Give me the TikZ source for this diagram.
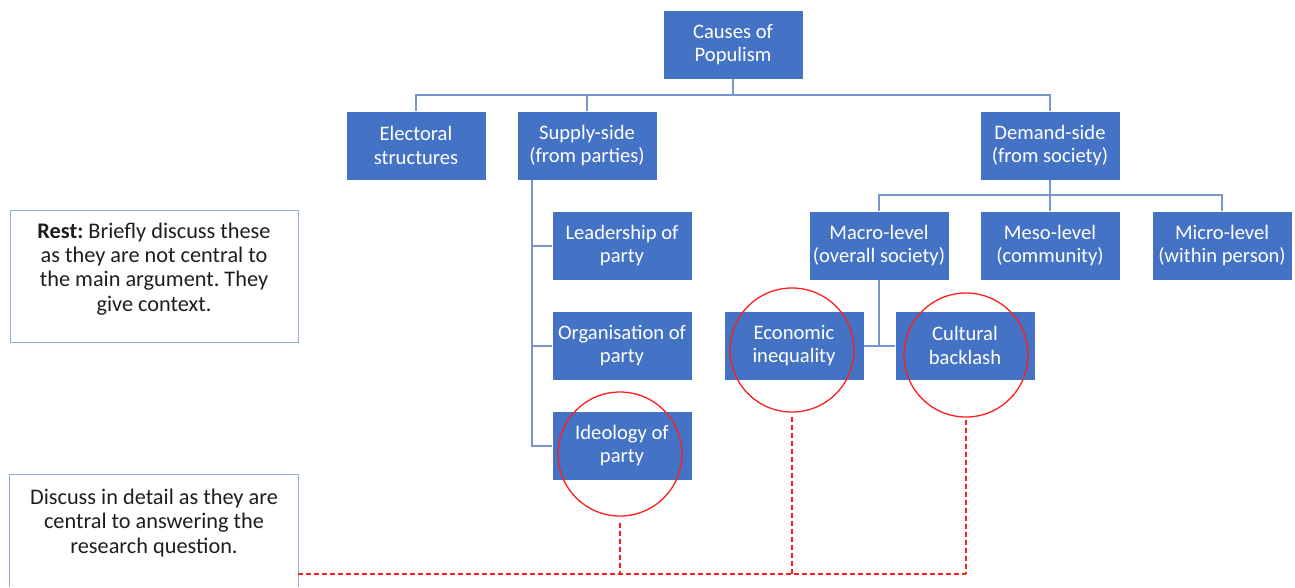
\documentclass[tikz,border=0pt]{standalone}
\usepackage{fontspec}
\setmainfont{Carlito}
\frenchspacing
\definecolor{boxblue}{RGB}{68,114,196}
\definecolor{linkblue}{RGB}{120,150,206}
\definecolor{noteblue}{RGB}{143,170,220}
\definecolor{ringred}{RGB}{255,30,30}
\definecolor{notetext}{RGB}{30,30,30}
\begin{document}
\begin{tikzpicture}[x=1pt,y=-1pt,
  box/.style={rectangle, fill=boxblue, draw=white, line width=0.6pt,
    minimum width=140pt, minimum height=69pt, inner sep=0pt,
    align=center, text=white, font=\fontsize{20.6}{23.5}\selectfont},
  link/.style={draw=linkblue, line width=2pt},
  note/.style={draw=noteblue, line width=1pt},
  notefont/.style={align=center, text=notetext, font=\fontsize{22.3}{24.2}\selectfont},
  ring/.style={circle, draw=ringred, line width=1.3pt, minimum size=124pt, inner sep=0pt},
  redlink/.style={draw=ringred, line width=1.3pt, dash pattern=on 5pt off 3pt}
]
\useasboundingbox (0,0) rectangle (1295,587);

% hierarchy boxes
\node[box] (causes) at (733,44.5) {Causes of\\Populism};
\node[box] (elect)  at (416,145.5) {Electoral\\structures};
\node[box] (supply) at (587,145.5) {Supply-side\\(from parties)};
\node[box] (demand) at (1050,145.5) {Demand-side\\(from society)};
\node[box] (lead)   at (622,245.5) {Leadership of\\party};
\node[box] (org)    at (622,345.5) {Organisation of\\party};
\node[box] (ideo)   at (622,445.5) {Ideology of\\party};
\node[box] (macro)  at (879,245.5) {Macro-level\\(overall society)};
\node[box] (meso)   at (1050,245.5) {Meso-level\\(community)};
\node[box] (micro)  at (1222,245.5) {Micro-level\\(within person)};
\node[box] (econ)   at (794,345.5) {Economic\\inequality};
\node[box] (cult)   at (965,345.5) {Cultural\\backlash};

% tree connectors
\coordinate (bar1) at (733,95);
\coordinate (bar2) at (1050,195);
\draw[link] (causes.south) -- (bar1);
\draw[link] (elect.north) |- (bar1);
\draw[link] (supply.north) |- (bar1);
\draw[link] (demand.north) |- (bar1);
\draw[link] ([xshift=-55pt]supply.south) |- (lead.west);
\draw[link] ([xshift=-55pt]supply.south) |- (org.west);
\draw[link] ([xshift=-55pt]supply.south) |- (ideo.west);
\draw[link] (demand.south) -- (meso.north);
\draw[link] (macro.north) |- (bar2);
\draw[link] (micro.north) |- (bar2);
\draw[link] (macro.south) -- (macro.south |- econ.east);
\draw[link] (econ.east) -- (cult.west);

% side notes
\node[note, minimum width=288pt, minimum height=132pt, inner sep=0pt] (rest) at (154,276) {};
\node[notefont] (resttext) at (154,269)
  {\textbf{Rest:} Briefly discuss these\\as they are not central to\\the main argument. They\\give context.};
\node[minimum width=288pt, minimum height=112pt, inner sep=0pt] (discuss) at (154,531) {};
\draw[note] (discuss.south west) -- (discuss.north west) -- (discuss.north east) -- (discuss.south east);
\node[notefont] (discusstext) at (154,523)
  {Discuss in detail as they are\\central to answering the\\research question.};

% highlight rings
\node[ring] (ideoring) at (620,454) {};
\node[ring] (econring) at (792,350) {};
\node[ring] (cultring) at (966,355) {};

% dashed leads to the detail note
\coordinate (bus) at (0,574);
\draw[redlink] (discuss.east |- bus) -- (cultring.south |- bus);
\draw[redlink] ([yshift=-6pt]ideoring.south) -- (ideoring.south |- bus);
\draw[redlink] ([yshift=-4pt]econring.south) -- (econring.south |- bus);
\draw[redlink] ([yshift=-2pt]cultring.south) -- (cultring.south |- bus);
\end{tikzpicture}
\end{document}
